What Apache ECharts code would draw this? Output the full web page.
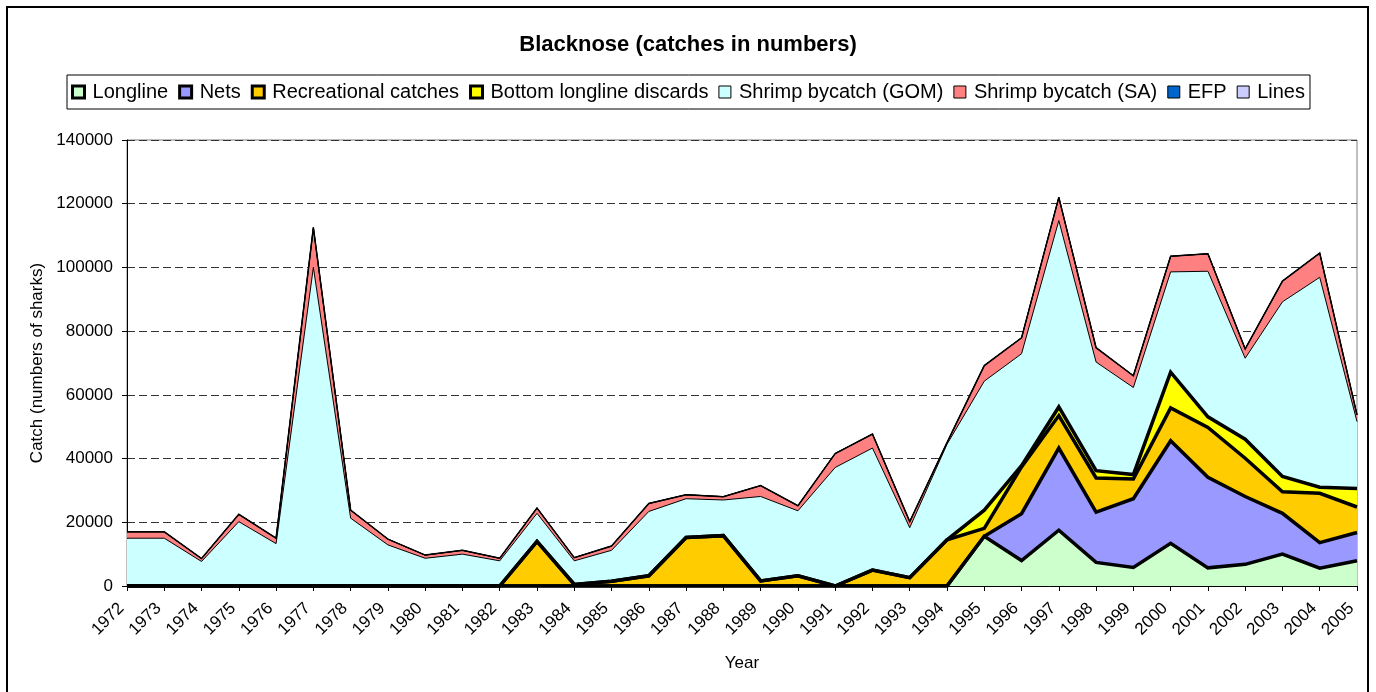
<!DOCTYPE html>
<html>
<head>
<meta charset="utf-8">
<script src="https://cdn.jsdelivr.net/npm/echarts@6/dist/echarts.min.js"></script>
<style>html,body{margin:0;padding:0;background:#fff;}#c{width:1376px;height:692px;}</style>
</head>
<body>
<div id="c"></div>
<script>
const years = ['1972','1973','1974','1975','1976','1977','1978','1979','1980','1981','1982','1983','1984','1985','1986','1987','1988','1989','1990','1991','1992','1993','1994','1995','1996','1997','1998','1999','2000','2001','2002','2003','2004','2005'];
const longline = [0,0,0,0,0,0,0,0,0,0,0,0,0,0,0,0,0,0,0,0,0,0,0,15600,8000,17500,7400,5800,13400,5700,6800,10000,5600,7900];
const nets = [0,0,0,0,0,0,0,0,0,0,0,0,0,0,0,0,0,0,0,0,0,0,0,0,14700,25800,15800,21600,32200,28400,21300,12800,8000,8900];
const recreational = [0,0,0,0,0,0,0,0,0,0,0,14000,500,1500,3200,15200,15800,1600,3200,0,5000,2600,14500,2500,14700,10200,10700,6200,10300,15700,12000,6800,15500,8000];
const bottomLonglineDiscards = [0,0,0,0,0,0,0,0,0,0,0,0,0,0,0,0,0,0,0,0,0,0,0,5700,400,2700,2300,1400,11200,3300,6000,4800,1900,5800];
const shrimpGOM = [15000,15000,7700,20200,13300,100000,21300,12900,8700,10000,7900,8800,7400,9700,20200,12200,11200,26500,20400,37200,38300,15700,30000,40500,35100,58500,34100,27300,31500,45700,25400,54800,65900,21000];
const shrimpSA = [2000,2000,900,2300,1700,12500,2500,1800,1000,1200,800,1700,1000,1350,2500,1260,1050,3400,1600,4400,4400,1900,500,4900,5000,7300,4500,3700,4900,5500,2900,6500,7600,2100];
const efp = [0,0,0,0,0,0,0,0,0,0,0,0,0,0,0,0,0,0,0,0,0,0,0,0,0,0,0,0,0,0,0,0,0,0];
const linesCatch = [0,0,0,0,0,0,0,0,0,0,0,0,0,0,0,0,0,0,0,0,0,0,0,0,0,0,0,0,0,0,0,0,0,0];
const yTicks = [0,20000,40000,60000,80000,100000,120000,140000];

const FONT = "'Liberation Sans', Arial, sans-serif";
const defs = [
  {name:'Longline', data:longline, color:'#CCFFCC', lw:3.5},
  {name:'Nets', data:nets, color:'#9999FF', lw:3.5},
  {name:'Recreational catches', data:recreational, color:'#FFCC00', lw:3.5},
  {name:'Bottom longline discards', data:bottomLonglineDiscards, color:'#FFFF00', lw:3.5},
  {name:'Shrimp bycatch (GOM)', data:shrimpGOM, color:'#CCFFFF', lw:1},
  {name:'Shrimp bycatch (SA)', data:shrimpSA, color:'#FF8080', lw:1.5},
  {name:'EFP', data:efp, color:'#0066CC', lw:1},
  {name:'Lines', data:linesCatch, color:'#CCCCFF', lw:1}
];
const series = [];
defs.forEach(d => {
  series.push({
    name:d.name, type:'line', stack:'areas', data:d.data, symbol:'none',
    lineStyle:{width:0, opacity:0}, areaStyle:{color:d.color, opacity:1},
    itemStyle:{color:d.color}, z:2, silent:true, emphasis:{disabled:true}
  });
});
defs.forEach(d => {
  series.push({
    name:'_' + d.name, type:'line', stack:'outlines', data:d.data, symbol:'none',
    lineStyle:{width:d.lw, color:'#000', join:'miter', miterLimit:4}, z:3, silent:true, emphasis:{disabled:true}
  });
});

const chart = echarts.init(document.getElementById('c'), null, {renderer:'canvas'});
chart.setOption({
  animation:false,
  backgroundColor:'#fff',
  title:{text:'Blacknose (catches in numbers)', left:'center', top:29,
    textStyle:{fontFamily:FONT, fontSize:22, fontWeight:'bold', color:'#000'}},
  legend:{
    top:75, left:'center', padding:[7,5,7,4], borderColor:'#000', borderWidth:1,
    itemGap:10, itemWidth:12, itemHeight:12, icon:'rect',
    textStyle:{fontFamily:FONT, fontSize:20, color:'#000', padding:[0,0,0,3]},
    data: defs.map(d => ({name:d.name, icon:'rect',
      itemStyle:{color:d.color, borderColor:'#000', borderWidth: d.lw > 2 ? 3 : 1}}))
  },
  grid:{left:127, right:19, top:140, bottom:106, show:true, borderColor:'#808080', borderWidth:1},
  xAxis:{
    type:'category', data:years, boundaryGap:false,
    name:'Year', nameLocation:'middle', nameGap:69,
    nameTextStyle:{fontFamily:FONT, fontSize:17, color:'#000'},
    axisLine:{lineStyle:{color:'#000', width:1}},
    axisTick:{show:true, interval:0, length:5, lineStyle:{color:'#000'}},
    axisLabel:{interval:0, rotate:45, margin:14, padding:[0,8,0,0], fontFamily:FONT, fontSize:17, color:'#000'},
    splitLine:{show:false}
  },
  yAxis:{
    type:'value', min:yTicks[0], max:yTicks[yTicks.length-1], interval:20000,
    name:'Catch (numbers of sharks)', nameLocation:'middle', nameGap:81, nameRotate:90,
    nameTextStyle:{fontFamily:FONT, fontSize:17, color:'#000'},
    axisLine:{show:true, lineStyle:{color:'#000', width:1}},
    axisTick:{show:true, length:5, lineStyle:{color:'#000'}},
    axisLabel:{margin:14, fontFamily:FONT, fontSize:17, color:'#000', formatter: v => String(v)},
    splitLine:{show:true, lineStyle:{color:'#333', width:1, type:[8,4]}}
  },
  graphic:[{type:'rect', shape:{x:7, y:7, width:1361, height:700}, style:{fill:null, stroke:'#000', lineWidth:2}, silent:true, z:10}],
  series: series
});
</script>
</body>
</html>
